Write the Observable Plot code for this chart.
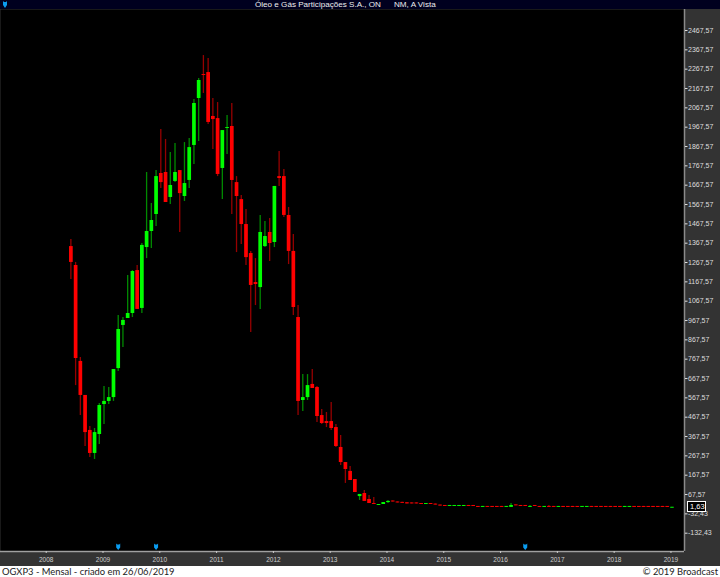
<!DOCTYPE html>
<html><head><meta charset="utf-8">
<script src="https://cdn.jsdelivr.net/npm/d3@7"></script>
<script src="https://cdn.jsdelivr.net/npm/@observablehq/plot@0.6"></script>
<style>
html,body{margin:0;padding:0;background:#fff;overflow:hidden}
#wrap{position:relative;width:720px;height:577px;font-family:"Liberation Sans",Arial,sans-serif}
#bar{position:relative;height:9px;background:#00001f;color:#eee;font-size:8.1px;line-height:9px;white-space:pre;overflow:hidden}
#bar span{position:absolute;top:0}
#chart svg{display:block}
#foot{position:absolute;left:0;right:0;top:566px;height:11px;background:#fff;color:#222;font:9.4px/11px Lato,sans-serif}
#foot span{position:absolute;top:0}
#last{position:absolute;box-sizing:border-box;left:687px;width:19px;height:11px;border:1px solid #fff;background:#000;color:#fff;font-size:7.5px;line-height:9px;padding-left:2px}
</style></head><body>
<div id="wrap">
  <div id="bar"><svg width="8" height="9" style="position:absolute;left:1px;top:0"><path d="M2,1L3,2H5L6,1V5L4,8L2,5Z" fill="#0a9cf0"/></svg><span style="left:255px">Óleo e Gás Participações S.A., ON</span><span style="left:394px">NM, A Vista</span></div>
  <div id="chart"></div>
  <div id="foot"><span style="left:2px">OGXP3 - Mensal - criado em 26/06/2019</span><span style="right:2px">© 2019 Broadcast</span></div>
</div>
<script>
// Monthly candles, first month June 2008 (month 5 counted from January 2008)
const firstMonth = 5;
const open = [1350,1252,756,580,399,280,378,533,549,569,719,942,978,1004,1226,1030,1345,1428,1516,1728,1733,1604,1687,1743,1609,1692,1873,2116,2240,2250,2023,2012,1754,1961,1971,1681,1593,1464,1314,1164,1138,1350,1423,1371,1712,1712,1511,1325,983,554,569,637,621,476,445,445,414,311,233,187,145,57,73,42,21,11,16,26,34,29,27,25,24,24,21,16,21,18,13,11,6,6,6,6,11,11,6,1,6,6,6,6,1,1,14,11,11,1,11,6,1,6,6,1,6,6,6,6,1,1,6,6,6,6,6,6,6,1,1,6,6,6,6,6,6,6,6,-3];
const close = [1268,771,580,388,280,388,528,549,569,714,921,968,1004,1221,1025,1356,1428,1485,1712,1681,1578,1666,1733,1624,1676,1862,2090,2209,2235,1992,2007,1723,1950,1966,1692,1609,1464,1293,1149,1154,1423,1402,1366,1661,1702,1511,1325,1035,549,569,631,616,471,435,435,409,316,233,197,140,78,68,32,21,16,16,26,32,29,24,22,19,19,19,16,21,16,13,8,6,11,11,11,11,6,6,1,6,1,1,1,1,6,11,9,6,6,6,6,1,6,1,1,6,1,1,1,1,6,6,1,1,1,1,1,1,1,6,6,1,1,1,1,1,1,1,1,1.63];
const high = [1387,1268,776,580,419,409,538,626,621,714,994,983,1200,1226,1252,1366,1733,1573,1743,1956,1904,1837,1883,1743,1888,1909,2111,2219,2338,2323,2116,2095,1950,2028,2090,1712,1614,1542,1325,1288,1511,1480,1495,1661,1842,1749,1552,1412,1045,688,688,714,626,507,492,544,430,373,233,213,145,68,89,63,52,16,26,37,34,29,27,25,24,24,21,16,21,18,13,11,11,11,11,11,11,11,6,6,6,6,6,6,6,21,14,11,11,11,11,6,6,11,6,6,6,6,6,6,6,6,6,6,6,6,6,6,6,6,6,6,6,6,6,6,6,6,6,1.63];
const low = [1180,631,476,316,259,249,326,430,533,549,704,828,978,983,1025,1004,1288,1340,1454,1650,1578,1568,1681,1423,1583,1650,1775,1893,2142,1981,1852,1712,1593,1826,1516,1319,1361,1252,906,1045,1025,1345,1273,1345,1661,1500,1257,994,476,497,554,616,440,430,414,399,311,218,125,140,78,37,32,21,16,11,16,21,29,24,22,19,19,19,16,16,16,13,8,6,6,6,6,6,6,6,1,1,1,1,1,1,1,1,9,6,6,1,6,1,1,1,1,1,1,1,1,1,1,1,1,1,1,1,1,1,1,1,1,1,1,1,1,1,1,1,1,-3];
const years = [2008,2009,2010,2011,2012,2013,2014,2015,2016,2017,2018,2019];
const priceTicks = [2467.57,2367.57,2267.57,2167.57,2067.57,1967.57,1867.57,1767.57,1667.57,1567.57,1467.57,1367.57,1267.57,1167.57,1067.57,967.57,867.57,767.57,667.57,567.57,467.57,367.57,267.57,167.57,67.57,-32.43,-132.43];
const eventMonths = [15,23,101];
const eventLevel = -201;

const candles = open.map((o,i)=>({month:i+firstMonth,open:o,close:close[i],high:high[i],low:low[i],up:close[i]>=o}));
const shield = {draw(c){c.moveTo(-2,-3);c.lineTo(-1,-2);c.lineTo(1,-2);c.lineTo(2,-3);c.lineTo(2,1);c.lineTo(0,3.5);c.lineTo(-2,1);c.closePath();}};
const fmt = d => d.toFixed(2).replace(".",",");

const plot = Plot.plot({
  width:720,height:557,marginTop:0,marginBottom:15,marginLeft:0,marginRight:36,
  style:{background:"#333",fontFamily:'"Liberation Sans",Arial,sans-serif',overflow:"visible"},
  x:{type:"linear",domain:[-9.87,134.65],axis:null},
  y:{domain:[-227.1,2576.2],axis:null},
  marks:[
    Plot.frame({fill:"#000",stroke:null}),
    Plot.ruleX(candles,{x:"month",y1:"low",y2:"high",stroke:d=>d.up?"#008a00":"#960000",strokeWidth:1.3}),
    Plot.ruleX(candles,{x:"month",y1:"open",y2:"close",stroke:d=>d.up?"#00ff00":"#ff0000",strokeWidth:3.7}),
    Plot.dot(eventMonths,{x:d=>d,y:()=>eventLevel,symbol:shield,fill:"#0a9cf0",stroke:null}),
    Plot.ruleX([134.65],{stroke:"#8a8a8a",strokeWidth:1.5}),
    Plot.ruleY([-227.1],{stroke:"#a0a0a0",strokeWidth:1.5}),
    Plot.axisY({anchor:"right",ticks:priceTicks,tickFormat:fmt,tickSize:2.5,tickPadding:1,stroke:"#ddd",fill:"#ddd",fontSize:7,label:null}),
    Plot.axisX({anchor:"bottom",ticks:years.map(y=>(y-2008)*12),tickFormat:m=>String(2008+m/12),tickSize:2,tickPadding:3.5,dx:-1,stroke:"#ccc",fill:"#ccc",fontSize:6.5,label:null})
  ]
});
document.getElementById("chart").append(plot);
const box = document.createElement("div");
box.id="last";
box.textContent=fmt(close[close.length-1]);
box.style.top=(9+plot.scale("y").apply(close[close.length-1])-5.5)+"px";
document.getElementById("wrap").append(box);
</script>
</body></html>
